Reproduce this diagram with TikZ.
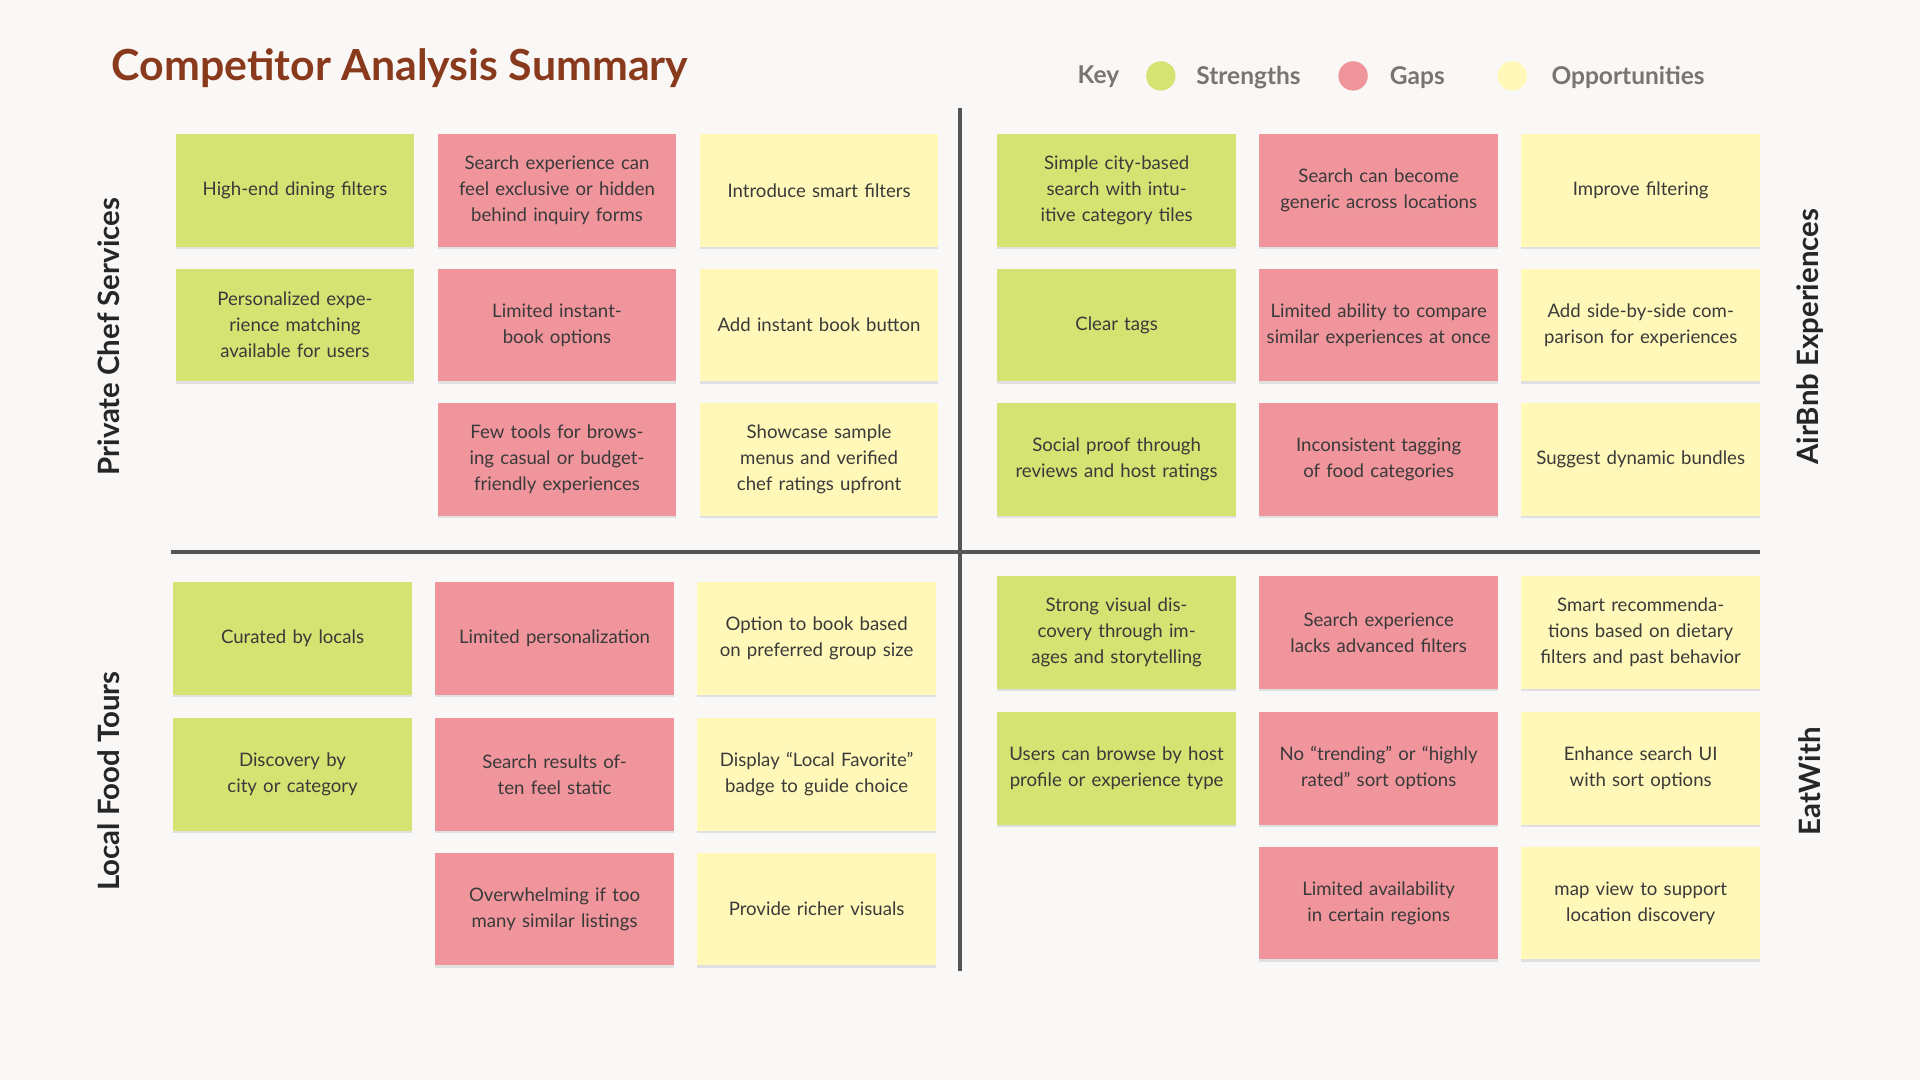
\documentclass[tikz,border=0pt]{standalone}
\usepackage{fontspec}
\setmainfont{Lato}
\definecolor{bg}{HTML}{FAF8F6}
\definecolor{sg}{HTML}{D4E372}
\definecolor{gr}{HTML}{F0959C}
\definecolor{op}{HTML}{FFF8B8}
\definecolor{ttl}{HTML}{8A3A1C}
\definecolor{keyc}{HTML}{7A7470}
\definecolor{ln}{HTML}{555555}
\definecolor{txt}{HTML}{3A3A3A}
\tikzset{
 note/.style={anchor=north west,minimum width=97.5pt,minimum height=46pt,inner sep=2pt,text width=92pt,align=center,font=\fontsize{7.6}{10.6}\selectfont,text=txt,
   preaction={fill=black!12,transform canvas={yshift=-1pt}}},
 S/.style={note,fill=sg},G/.style={note,fill=gr},O/.style={note,fill=op},
 side/.style={rotate=90,font=\fontsize{12}{14}\selectfont\bfseries,text=black!85},
 keyt/.style={anchor=west,font=\fontsize{10}{12}\selectfont\bfseries,text=keyc},
 dot/.style={circle,minimum size=12pt,inner sep=0pt}
}
\begin{document}
\begin{tikzpicture}[x=0.5pt,y=-0.5pt]
\fill[bg] (0,0) rectangle (1568,882);
\useasboundingbox (0,0) rectangle (1568,882);
\node[anchor=west,font=\fontsize{17.5}{20}\selectfont\bfseries,text=ttl] (title) at (84,56) {Competitor Analysis Summary};
\node[keyt] (key) at (873,63) {Key};
\node[dot,fill=sg] (d1) at (948,62) {};
\node[keyt] (k1) at (970,63) {Strengths};
\node[dot,fill=gr] (d2) at (1105,62) {};
\node[keyt] (k2) at (1128,63) {Gaps};
\node[dot,fill=op] (d3) at (1235,62) {};
\node[keyt] (k3) at (1260,63) {Opportunities};
\coordinate (vt) at (784,88); \coordinate (vb) at (784,793);
\coordinate (hl) at (140,451); \coordinate (hr) at (1437,451);
\draw[ln,line width=1.6pt] (vt) -- (vb);
\draw[ln,line width=1.6pt] (hl) -- (hr);
\node[side] (s1) at (89,275) {Private Chef Services};
\node[side] (s2) at (1478,275) {AirBnb Experiences};
\node[side] (s3) at (89,638) {Local Food Tours};
\node[side] (s4) at (1478,638) {EatWith};
% top-left
\node[S] (a1) at (143,109) {High-end dining filters};
\node[S] (a2) at (143,219) {Personalized experience matching available for users};
\node[G] (a3) at (357,109) {Search experience can feel exclusive or hidden behind inquiry forms};
\node[G] (a4) at (357,219) {Limited instant-book options};
\node[G] (a5) at (357,329) {Few tools for browsing casual or budget-friendly experiences};
\node[O] (a6) at (571,109) {Introduce smart filters};
\node[O] (a7) at (571,219) {Add instant book button};
\node[O] (a8) at (571,329) {Showcase sample menus and verified chef ratings upfront};
% top-right
\node[S] (b1) at (814,109) {Simple city-based search with intuitive category tiles};
\node[S] (b2) at (814,219) {Clear tags};
\node[S] (b3) at (814,329) {Social proof through reviews and host ratings};
\node[G] (b4) at (1028,109) {Search can become generic across locations};
\node[G] (b5) at (1028,219) {Limited ability to compare similar experiences at once};
\node[G] (b6) at (1028,329) {Inconsistent tagging of food categories};
\node[O] (b7) at (1242,109) {Improve filtering};
\node[O] (b8) at (1242,219) {Add side-by-side comparison for experiences};
\node[O] (b9) at (1242,329) {Suggest dynamic bundles};
% bottom-left
\node[S] (c1) at (141,475) {Curated by locals};
\node[S] (c2) at (141,586) {Discovery by city or category};
\node[G] (c3) at (355,475) {Limited personalization};
\node[G] (c4) at (355,586) {Search results often feel static};
\node[G] (c5) at (355,696) {Overwhelming if too many similar listings};
\node[O] (c6) at (569,475) {Option to book based on preferred group size};
\node[O] (c7) at (569,586) {Display “Local Favorite” badge to guide choice};
\node[O] (c8) at (569,696) {Provide richer visuals};
% bottom-right
\node[S] (e1) at (814,470) {Strong visual discovery through images and storytelling};
\node[S] (e2) at (814,581) {Users can browse by host profile or experience type};
\node[G] (e3) at (1028,470) {Search experience lacks advanced filters};
\node[G] (e4) at (1028,581) {No “trending” or “highly rated” sort options};
\node[G] (e5) at (1028,691) {Limited availability in certain regions};
\node[O] (e6) at (1242,470) {Smart recommendations based on dietary filters and past behavior};
\node[O] (e7) at (1242,581) {Enhance search UI with sort options};
\node[O] (e8) at (1242,691) {map view to support location discovery};
\end{tikzpicture}
\end{document}
